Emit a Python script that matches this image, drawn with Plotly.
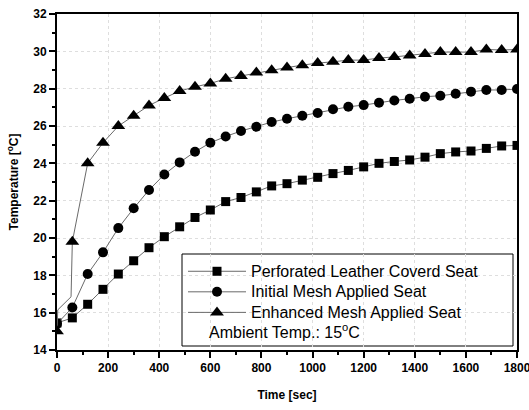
import plotly.graph_objects as go

# Sampling times (s) and seat surface temperatures (deg C)
time_s = list(range(0, 1801, 60))

perforated_leather = [15.45, 15.72, 16.45, 17.25, 18.07, 18.78, 19.48, 20.07, 20.6, 21.1,
                      21.5, 21.95, 22.17, 22.47, 22.79, 22.91, 23.1, 23.25, 23.45, 23.62,
                      23.81, 24.0, 24.1, 24.18, 24.33, 24.52, 24.61, 24.66, 24.8, 24.93, 24.96]

initial_mesh = [15.4, 16.28, 18.07, 19.23, 20.53, 21.59, 22.57, 23.4, 24.05, 24.62,
                25.1, 25.44, 25.73, 25.96, 26.21, 26.39, 26.55, 26.7, 26.9, 27.03,
                27.12, 27.25, 27.37, 27.46, 27.57, 27.62, 27.73, 27.84, 27.93, 27.93, 27.98]

enhanced_mesh = [15.0, 19.8, 24.0, 25.1, 26.0, 26.55, 27.1, 27.5, 27.87, 28.1,
                 28.28, 28.53, 28.68, 28.86, 28.98, 29.13, 29.26, 29.37, 29.44, 29.53,
                 29.53, 29.64, 29.7, 29.78, 29.86, 29.96, 29.96, 29.96, 30.1, 30.07, 30.1]

# extra recorded samples of the enhanced seat within the first minute
enhanced_early_t = [3, 55]
enhanced_early_v = [16.15, 16.85]

series_names = ["Perforated Leather Coverd Seat",
                "Initial Mesh Applied Seat",
                "Enhanced Mesh Applied Seat"]

x_ticks = list(range(0, 1801, 200))
y_ticks = list(range(14, 33, 2))

FONT = "Liberation Sans, Arial, sans-serif"
LINE_COLOR = "#6a6a6a"


def legend_label(text):
    # larger glyphs than the legend's row spacing font
    return f"<span style='font-size:16px'>{text}</span>"


fig = go.Figure()

# perforated leather seat
fig.add_trace(go.Scatter(
    x=time_s, y=perforated_leather, name=legend_label(series_names[0]),
    mode="lines+markers",
    line=dict(color=LINE_COLOR, width=1),
    marker=dict(symbol="square", size=9, color="black"),
))

# initial mesh seat
fig.add_trace(go.Scatter(
    x=time_s, y=initial_mesh, name=legend_label(series_names[1]),
    mode="lines+markers",
    line=dict(color=LINE_COLOR, width=1),
    marker=dict(symbol="circle", size=10, color="black"),
))

# enhanced mesh seat: full recorded line, markers every 60 s
enh_line_t = [time_s[0]] + enhanced_early_t + time_s[1:]
enh_line_v = [enhanced_mesh[0]] + enhanced_early_v + enhanced_mesh[1:]
fig.add_trace(go.Scatter(
    x=enh_line_t, y=enh_line_v, mode="lines", showlegend=False,
    line=dict(color=LINE_COLOR, width=1), hoverinfo="skip",
))
fig.add_trace(go.Scatter(
    x=time_s, y=enhanced_mesh, mode="markers", showlegend=False,
    marker=dict(symbol="triangle-up", size=12, color="black"),
))
# legend entry for the enhanced seat
fig.add_trace(go.Scatter(
    x=[None], y=[None], name=legend_label(series_names[2]), mode="lines+markers",
    line=dict(color=LINE_COLOR, width=1),
    marker=dict(symbol="triangle-up", size=12, color="black"),
))

L, R, T, B = 57, 12, 14, 60
W, H = 529, 410
pw, ph = W - L - R, H - T - B


def px_x(p):
    return (p - L) / pw


def px_y(p):
    return (H - B - p) / ph


# legend frame and ambient note
fig.add_shape(type="rect", xref="paper", yref="paper",
              x0=px_x(182), x1=px_x(513), y0=px_y(346), y1=px_y(254),
              line=dict(color="black", width=1), fillcolor="white", layer="below")
fig.add_annotation(xref="paper", yref="paper", x=px_x(207), y=px_y(331),
                   xanchor="left", yanchor="middle", showarrow=False,
                   text="Ambient Temp.: 15<sup>o</sup>C",
                   font=dict(family=FONT, size=16, color="black"))

axis_common = dict(
    showline=True, linecolor="black", linewidth=2, mirror=True,
    ticks="outside", ticklen=6, tickwidth=1.5, tickcolor="black",
    showgrid=True, gridcolor="#dedede", griddash="dot", gridwidth=1,
    zeroline=False, automargin=False, ticklabeloverflow="allow",
    tickfont=dict(family=FONT, size=12, color="black", weight="bold"),
)

fig.update_xaxes(
    range=[0, 1800], tickvals=x_ticks,
    minor=dict(dtick=100, ticks="outside", ticklen=3, tickcolor="black", showgrid=False),
    title=dict(text="Time [sec]", standoff=16,
               font=dict(family=FONT, size=12, color="black", weight="bold")),
    **axis_common,
)
fig.update_yaxes(
    range=[14, 32], tickvals=y_ticks,
    minor=dict(dtick=1, ticks="outside", ticklen=3, tickcolor="black", showgrid=False),
    title=dict(text="Temperature [<sup>o</sup>C]", standoff=12,
               font=dict(family=FONT, size=12, color="black", weight="bold")),
    **axis_common,
)

fig.update_layout(
    width=W, height=H,
    margin=dict(l=L, r=R, t=T, b=B),
    plot_bgcolor="white", paper_bgcolor="white",
    font=dict(family=FONT, color="black"),
    showlegend=True,
    legend=dict(x=px_x(183), y=px_y(256), xanchor="left", yanchor="top",
                bgcolor="rgba(0,0,0,0)", borderwidth=0,
                font=dict(family=FONT, size=13.5, color="black"),
                tracegroupgap=0, itemwidth=58),
)

fig.write_html("out.html")
